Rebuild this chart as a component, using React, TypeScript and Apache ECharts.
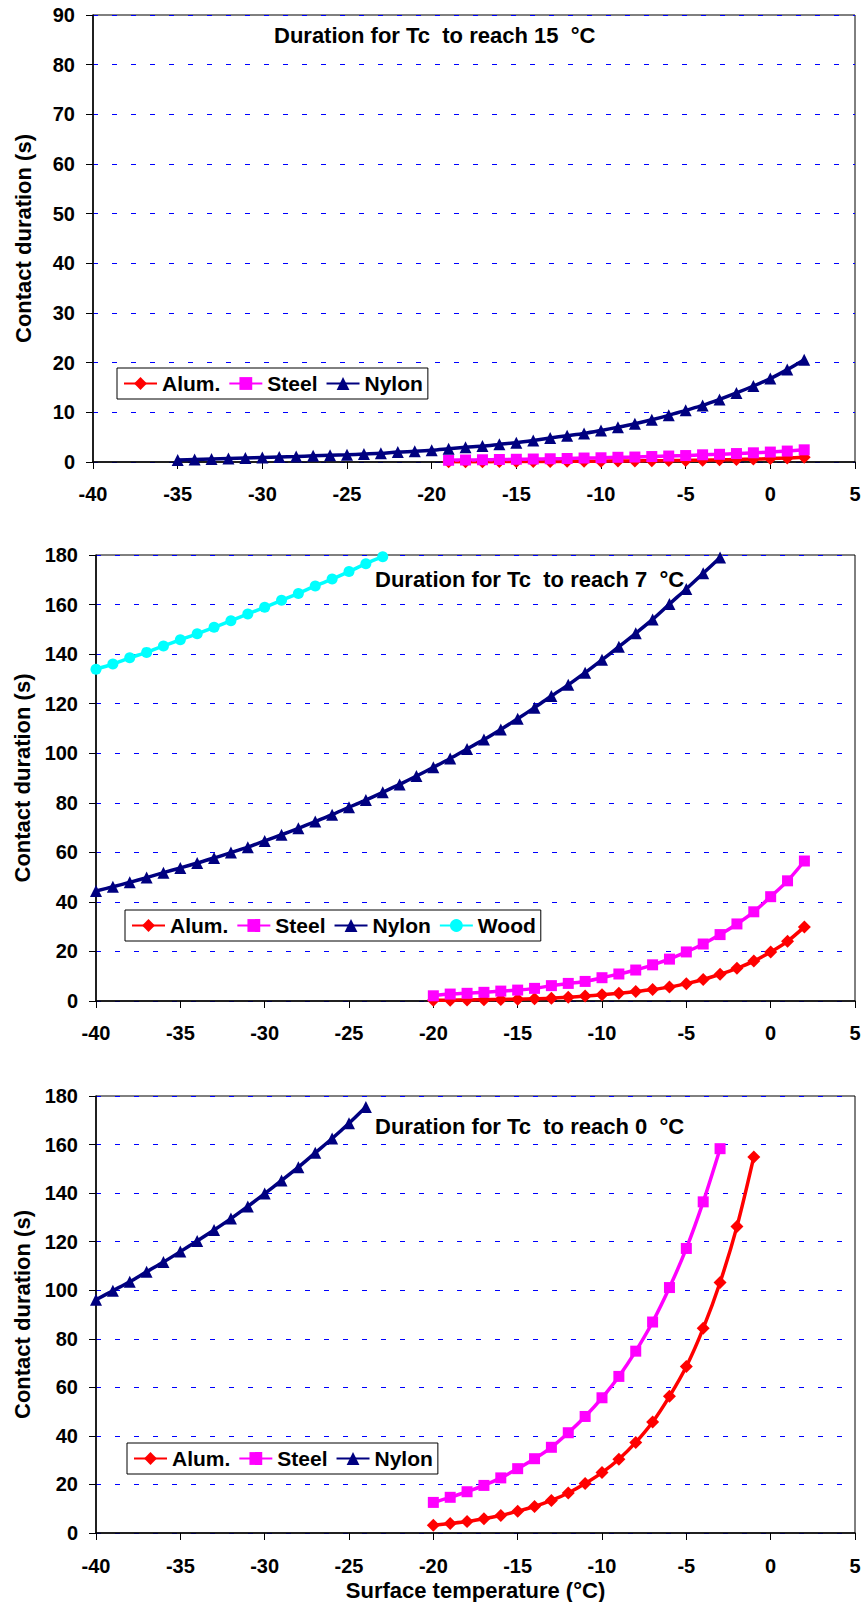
import React, { useEffect, useRef } from "react";
import * as echarts from "echarts";

const FONT = "'Liberation Sans', Arial, Helvetica, sans-serif";

// ---------- Chart 1: duration for Tc to reach 15 °C ----------
const c1Title = "Duration for Tc  to reach 15  °C";
const c1AlumT = [-19, -18, -17, -16, -15, -14, -13, -12, -11, -10, -9, -8, -7, -6, -5, -4, -3, -2, -1, 0, 1, 2];
const c1AlumV = [0.05, 0.06, 0.07, 0.08, 0.09, 0.1, 0.12, 0.13, 0.15, 0.17, 0.19, 0.22, 0.25, 0.28, 0.32, 0.37, 0.43, 0.5, 0.58, 0.68, 0.8, 0.95];
const c1SteelT = [-19, -18, -17, -16, -15, -14, -13, -12, -11, -10, -9, -8, -7, -6, -5, -4, -3, -2, -1, 0, 1, 2];
const c1SteelV = [0.35, 0.4, 0.45, 0.5, 0.55, 0.6, 0.65, 0.7, 0.8, 0.85, 0.95, 1.0, 1.1, 1.2, 1.3, 1.45, 1.55, 1.7, 1.85, 2.0, 2.2, 2.45];
const c1NylonT = [-35, -34, -33, -32, -31, -30, -29, -28, -27, -26, -25, -24, -23, -22, -21, -20, -19, -18, -17, -16, -15, -14, -13, -12, -11, -10, -9, -8, -7, -6, -5, -4, -3, -2, -1, 0, 1, 2];
const c1NylonV = [0.4, 0.5, 0.6, 0.7, 0.8, 0.9, 1.0, 1.1, 1.25, 1.35, 1.45, 1.6, 1.75, 2.0, 2.15, 2.35, 2.65, 2.95, 3.2, 3.55, 3.9, 4.35, 4.85, 5.3, 5.75, 6.35, 7.0, 7.7, 8.5, 9.4, 10.4, 11.4, 12.6, 13.9, 15.3, 16.8, 18.6, 20.6];

// ---------- Chart 2: duration for Tc to reach 7 °C ----------
const c2Title = "Duration for Tc  to reach 7  °C";
const c2AlumT = [-20, -19, -18, -17, -16, -15, -14, -13, -12, -11, -10, -9, -8, -7, -6, -5, -4, -3, -2, -1, 0, 1, 2];
const c2AlumV = [0.3, 0.35, 0.45, 0.55, 0.65, 0.75, 0.9, 1.1, 1.5, 2.0, 2.5, 3.1, 3.8, 4.6, 5.6, 7.0, 8.7, 10.8, 13.2, 16.1, 19.8, 24.1, 29.9];
const c2SteelT = [-20, -19, -18, -17, -16, -15, -14, -13, -12, -11, -10, -9, -8, -7, -6, -5, -4, -3, -2, -1, 0, 1, 2];
const c2SteelV = [2.1, 2.8, 3.1, 3.5, 4.0, 4.4, 5.1, 6.2, 7.1, 7.9, 9.4, 10.9, 12.5, 14.6, 16.9, 19.8, 23.0, 26.8, 31.1, 36.0, 42.1, 48.5, 56.5];
const c2NylonT = [-40, -39, -38, -37, -36, -35, -34, -33, -32, -31, -30, -29, -28, -27, -26, -25, -24, -23, -22, -21, -20, -19, -18, -17, -16, -15, -14, -13, -12, -11, -10, -9, -8, -7, -6, -5, -4, -3];
const c2NylonV = [44.4, 46.1, 47.9, 49.8, 51.8, 53.7, 55.7, 57.7, 59.9, 62.1, 64.6, 67.1, 69.7, 72.4, 75.2, 78.2, 81.1, 84.2, 87.4, 90.8, 94.3, 97.9, 101.7, 105.5, 109.6, 113.9, 118.4, 123.1, 127.6, 132.5, 137.7, 143.0, 148.4, 154.0, 160.2, 166.3, 172.6, 179.0];
const c2WoodT = [-40, -39, -38, -37, -36, -35, -34, -33, -32, -31, -30, -29, -28, -27, -26, -25, -24, -23];
const c2WoodV = [133.9, 136.0, 138.5, 140.7, 143.3, 145.8, 148.2, 150.8, 153.5, 156.2, 158.9, 161.7, 164.5, 167.5, 170.3, 173.3, 176.5, 179.3];

// ---------- Chart 3: duration for Tc to reach 0 °C ----------
const c3Title = "Duration for Tc  to reach 0  °C";
const c3AlumT = [-20, -19, -18, -17, -16, -15, -14, -13, -12, -11, -10, -9, -8, -7, -6, -5, -4, -3, -2, -1];
const c3AlumV = [3.2, 3.9, 4.7, 5.9, 7.2, 9.0, 10.9, 13.4, 16.5, 20.4, 24.9, 30.4, 37.3, 45.7, 56.3, 68.6, 84.3, 103.2, 126.2, 154.9];
const c3SteelT = [-20, -19, -18, -17, -16, -15, -14, -13, -12, -11, -10, -9, -8, -7, -6, -5, -4, -3];
const c3SteelV = [12.6, 14.7, 17.0, 19.6, 22.7, 26.5, 30.6, 35.3, 41.3, 48.0, 55.7, 64.5, 74.9, 86.9, 101.1, 117.2, 136.4, 158.3];
const c3NylonT = [-40, -39, -38, -37, -36, -35, -34, -33, -32, -31, -30, -29, -28, -27, -26, -25, -24];
const c3NylonV = [96.1, 99.8, 103.5, 107.6, 111.6, 115.9, 120.3, 124.8, 129.5, 134.5, 139.8, 145.2, 150.7, 156.6, 162.5, 168.8, 175.5];

const xAxisName = "Surface temperature (°C)";
const yAxisName = "Contact duration (s)";
const xMin = -40;
const xMax = 5;
const xStep = 5;
const y1Max = 90;
const y1Step = 10;
const y23Max = 180;
const y23Step = 20;

const zip = (t: number[], v: number[]) => t.map((x, i) => [x, v[i]]);

const STYLES: Record<string, { color: string; symbol: string; size: number }> = {
  "Alum.": { color: "#FF0000", symbol: "diamond", size: 13 },
  Steel: { color: "#FF00FF", symbol: "rect", size: 11 },
  Nylon: { color: "#000080", symbol: "triangle", size: 12 },
  Wood: { color: "#00FFFF", symbol: "circle", size: 11 },
};

const mkSeries = (name: string, t: number[], v: number[], idx: number) => ({
  type: "line",
  name,
  xAxisIndex: idx,
  yAxisIndex: idx,
  data: zip(t, v),
  symbol: STYLES[name].symbol,
  symbolSize: STYLES[name].size,
  smooth: 0.3,
  lineStyle: { color: STYLES[name].color, width: 3.5 },
  itemStyle: { color: STYLES[name].color, borderWidth: 0 },
  emphasis: { disabled: true },
  z: 3,
});

const textBase = { fontFamily: FONT, fontWeight: "bold" as const, color: "#000" };

const mkXAxis = (idx: number, withName: boolean, margin: number) => ({
  type: "value",
  gridIndex: idx,
  min: xMin,
  max: xMax,
  interval: xStep,
  name: withName ? xAxisName : "",
  nameLocation: "middle",
  nameGap: 46,
  nameTextStyle: { ...textBase, fontSize: 22 },
  axisLine: { show: true, onZero: false, lineStyle: { color: "#000", width: 1.5 } },
  axisTick: { show: true, inside: false, length: 7, lineStyle: { color: "#000", width: 1 } },
  axisLabel: { ...textBase, fontSize: 20, margin },
  splitLine: { show: false },
});

const mkYAxis = (idx: number, max: number, step: number, gap: number) => ({
  type: "value",
  gridIndex: idx,
  min: 0,
  max,
  interval: step,
  name: yAxisName,
  nameLocation: "middle",
  nameGap: gap,
  nameTextStyle: { ...textBase, fontSize: 22 },
  axisLine: { show: true, onZero: false, lineStyle: { color: "#000", width: 1.5 } },
  axisTick: { show: true, inside: false, length: 7, lineStyle: { color: "#000", width: 1 } },
  axisLabel: { ...textBase, fontSize: 20, margin: 18 },
  splitLine: { show: true, lineStyle: { color: "#0000FF", width: 1, type: [5, 14] } },
});

const mkLegend = (names: string[], left: number, top: number) => ({
  show: true,
  data: names,
  left,
  top,
  orient: "horizontal",
  itemWidth: 33,
  itemHeight: 16,
  itemGap: 8,
  padding: [5, 5, 5, 6],
  borderColor: "#000",
  borderWidth: 1,
  backgroundColor: "#fff",
  selectedMode: false,
  textStyle: { ...textBase, fontSize: 21 },
});

const mkGrid = (left: number, top: number, width: number, height: number) => ({
  left,
  top,
  width,
  height,
  show: true,
  borderColor: "#000",
  borderWidth: 1,
  backgroundColor: "#fff",
  containLabel: false,
});

const option = {
  animation: false,
  backgroundColor: "#fff",
  title: [
    { text: c1Title, left: 274, top: 24, padding: 0, textStyle: { ...textBase, fontSize: 22 } },
    { text: c2Title, left: 375, top: 568, padding: 0, textStyle: { ...textBase, fontSize: 22 } },
    { text: c3Title, left: 375, top: 1115, padding: 0, textStyle: { ...textBase, fontSize: 22 } },
  ],
  grid: [mkGrid(93, 15, 762, 447), mkGrid(96, 555, 759, 446), mkGrid(96, 1096, 759, 437)],
  xAxis: [mkXAxis(0, false, 22), mkXAxis(1, false, 22), mkXAxis(2, true, 23)],
  yAxis: [mkYAxis(0, y1Max, y1Step, 59), mkYAxis(1, y23Max, y23Step, 62), mkYAxis(2, y23Max, y23Step, 62)],
  legend: [
    mkLegend(["Alum.", "Steel", "Nylon"], 117, 368),
    mkLegend(["Alum.", "Steel", "Nylon", "Wood"], 125, 910),
    mkLegend(["Alum.", "Steel", "Nylon"], 127, 1443),
  ],
  series: [
    mkSeries("Alum.", c1AlumT, c1AlumV, 0),
    mkSeries("Steel", c1SteelT, c1SteelV, 0),
    mkSeries("Nylon", c1NylonT, c1NylonV, 0),
    mkSeries("Alum.", c2AlumT, c2AlumV, 1),
    mkSeries("Steel", c2SteelT, c2SteelV, 1),
    mkSeries("Nylon", c2NylonT, c2NylonV, 1),
    mkSeries("Wood", c2WoodT, c2WoodV, 1),
    mkSeries("Alum.", c3AlumT, c3AlumV, 2),
    mkSeries("Steel", c3SteelT, c3SteelV, 2),
    mkSeries("Nylon", c3NylonT, c3NylonV, 2),
  ],
};

export default function App() {
  const ref = useRef<HTMLDivElement>(null);
  useEffect(() => {
    document.body.style.margin = "0";
    const chart = echarts.init(ref.current as HTMLDivElement, undefined, { renderer: "svg" });
    chart.setOption(option as any);
    return () => chart.dispose();
  }, []);
  return <div ref={ref} style={{ width: 864, height: 1602 }} />;
}
